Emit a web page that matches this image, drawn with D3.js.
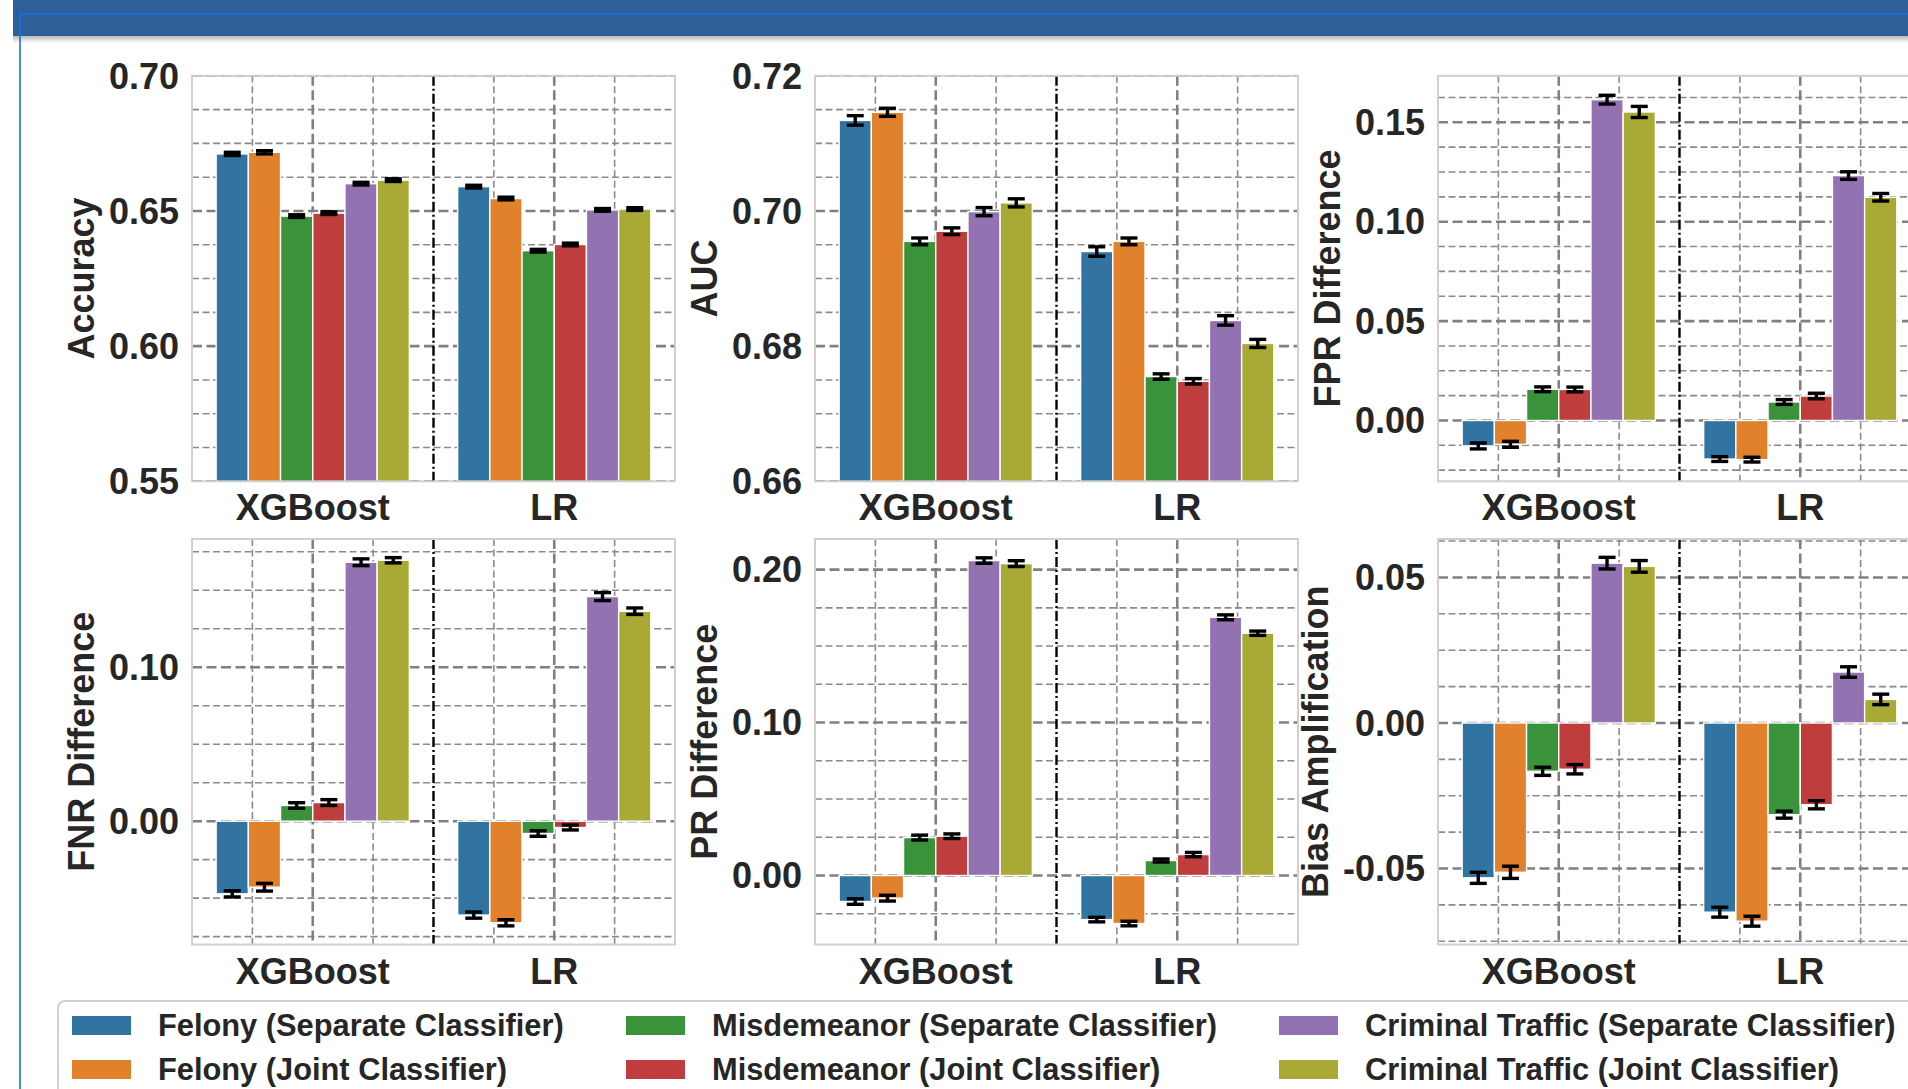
<!DOCTYPE html>
<html>
<head>
<meta charset="utf-8">
<script src="https://cdn.jsdelivr.net/npm/d3@7"></script>
<style>
  html, body { margin: 0; padding: 0; background: #fff; overflow: hidden; }
  svg { display: block; font-family: "Liberation Sans", Arial, sans-serif; font-weight: bold; }
</style>
</head>
<body>
<div id="chart"></div>
<script>
const models = ["XGBoost", "LR"];
const seriesNames = [
  "Felony (Separate Classifier)", "Felony (Joint Classifier)",
  "Misdemeanor (Separate Classifier)", "Misdemeanor (Joint Classifier)",
  "Criminal Traffic (Separate Classifier)", "Criminal Traffic (Joint Classifier)"
];
const colors = ["#3274a1", "#e1812c", "#3a923a", "#c03d3e", "#9372b2", "#a9aa35"];

// [XGBoost values, LR values], each in series order
const accuracy = [[0.6711, 0.6717, 0.6481, 0.6492, 0.6601, 0.6614], [0.6590, 0.6546, 0.6353, 0.6376, 0.6504, 0.6507]];
const accuracyErr = [[0.0006, 0.0006, 0.0005, 0.0005, 0.0005, 0.0005], [0.0005, 0.0005, 0.0005, 0.0005, 0.0005, 0.0005]];
const auc = [[0.7134, 0.7146, 0.6955, 0.6970, 0.6999, 0.7012], [0.6940, 0.6955, 0.6755, 0.6748, 0.6838, 0.6804]];
const aucErr = [[0.0007, 0.0006, 0.0005, 0.0005, 0.0006, 0.0006], [0.0007, 0.0005, 0.0004, 0.0004, 0.0007, 0.0006]];
const fprDiff = [[-0.0128, -0.0120, 0.0157, 0.0156, 0.1614, 0.1552], [-0.0194, -0.0197, 0.0093, 0.0123, 0.1232, 0.1123]];
const fprErr = [[0.0015, 0.0015, 0.0012, 0.0012, 0.0022, 0.0028], [0.0012, 0.0012, 0.0012, 0.0014, 0.0019, 0.0019]];
const fnrDiff = [[-0.0472, -0.0429, 0.0102, 0.0121, 0.1682, 0.1695], [-0.0610, -0.0660, -0.0080, -0.0041, 0.1459, 0.1364]];
const fnrErr = [[0.0020, 0.0025, 0.0018, 0.0019, 0.0022, 0.0017], [0.0020, 0.0020, 0.0018, 0.0016, 0.0026, 0.0021]];
const prDiff = [[-0.0170, -0.0148, 0.0248, 0.0257, 0.2059, 0.2039], [-0.0288, -0.0314, 0.0098, 0.0137, 0.1688, 0.1584]];
const prErr = [[0.0018, 0.0019, 0.0016, 0.0015, 0.0018, 0.0019], [0.0015, 0.0015, 0.0010, 0.0014, 0.0016, 0.0014]];
const biasAmp = [[-0.0532, -0.0513, -0.0166, -0.0159, 0.0549, 0.0538], [-0.0650, -0.0681, -0.0315, -0.0281, 0.0175, 0.0081]];
const biasErr = [[0.0019, 0.0021, 0.0014, 0.0016, 0.0020, 0.0020], [0.0017, 0.0017, 0.0012, 0.0014, 0.0018, 0.0018]];

const accuracyTicks = [0.55, 0.60, 0.65, 0.70];
const aucTicks = [0.66, 0.68, 0.70, 0.72];
const fprTicks = [0.00, 0.05, 0.10, 0.15];
const fnrTicks = [0.00, 0.10];
const prTicks = [0.00, 0.10, 0.20];
const biasTicks = [-0.05, 0.00, 0.05];

const panels = [
  { label: "Accuracy", values: accuracy, errors: accuracyErr, domain: [0.55, 0.70], ticks: accuracyTicks, minor: 0.0125 },
  { label: "AUC", values: auc, errors: aucErr, domain: [0.66, 0.72], ticks: aucTicks, minor: 0.005 },
  { label: "FPR Difference", values: fprDiff, errors: fprErr, domain: [-0.0306, 0.1734], ticks: fprTicks, minor: 0.0125 },
  { label: "FNR Difference", values: fnrDiff, errors: fnrErr, domain: [-0.0801, 0.1833], ticks: fnrTicks, minor: 0.025 },
  { label: "PR Difference", values: prDiff, errors: prErr, domain: [-0.0451, 0.2200], ticks: prTicks, minor: 0.025 },
  { label: "Bias Amplification", values: biasAmp, errors: biasErr, domain: [-0.0761, 0.0632], ticks: biasTicks, minor: 0.0125 }
];

const width = 1908, height = 1089;
const colX = [192, 815, 1438], rowY = [75.8, 539];
const pw = 483, ph = 405.5;
const textColor = "#262626";

let svg = d3.select("#chart")
  .append("svg")
  .attr("width", width)
  .attr("height", height)
  .attr("viewBox", [0, 0, width, height]);

// window chrome at the top of the screenshot
let defs = svg.append("defs");
let grad = defs.append("linearGradient").attr("id", "shadow").attr("x1", 0).attr("y1", 0).attr("x2", 0).attr("y2", 1);
grad.append("stop").attr("offset", 0).attr("stop-color", "#000").attr("stop-opacity", 0.28);
grad.append("stop").attr("offset", 1).attr("stop-color", "#000").attr("stop-opacity", 0);

svg.append("rect").attr("x", 13).attr("y", 0).attr("width", width).attr("height", 36).attr("fill", "#2e5f98");
svg.append("rect").attr("x", 13).attr("y", 36).attr("width", width).attr("height", 7).attr("fill", "url(#shadow)");
svg.append("path")
  .attr("d", `M20,${height} V14 H${width}`)
  .attr("fill", "none")
  .attr("stroke", "#1c6fe6")
  .attr("stroke-width", 1.6);

function drawPanel(p, i, x0, y0) {
  let g = svg.append("g");

  let x = d3.scaleLinear()
    .domain([-0.5, 1.5])
    .range([x0, x0 + pw]);

  let y = d3.scaleLinear()
    .domain(p.domain)
    .range([y0 + ph, y0]);

  const bw = 0.8 / seriesNames.length;

  defs.append("clipPath")
    .attr("id", "clip" + i)
    .append("rect")
    .attr("x", x0).attr("y", y0)
    .attr("width", pw).attr("height", ph);

  let plot = g.append("g").attr("clip-path", `url(#clip${i})`);

  // grid: minor then major
  let minorY = d3.range(Math.ceil(p.domain[0] / p.minor - 1e-6) * p.minor, p.domain[1] + 1e-9, p.minor)
    .filter(v => !p.ticks.some(t => Math.abs(t - v) < 1e-6));

  plot.selectAll(".hminor")
    .data(minorY)
    .join("line")
    .attr("x1", x0).attr("x2", x0 + pw)
    .attr("y1", d => y(d)).attr("y2", d => y(d))
    .attr("stroke", "#8a8a8a")
    .attr("stroke-width", 1.6)
    .attr("stroke-dasharray", "7,3.5");

  plot.selectAll(".vminor")
    .data([-0.25, 0.25, 0.75, 1.25])
    .join("line")
    .attr("x1", d => x(d)).attr("x2", d => x(d))
    .attr("y1", y0).attr("y2", y0 + ph)
    .attr("stroke", "#8a8a8a")
    .attr("stroke-width", 1.6)
    .attr("stroke-dasharray", "7,3.5");

  plot.selectAll(".hmajor")
    .data(p.ticks)
    .join("line")
    .attr("x1", x0).attr("x2", x0 + pw)
    .attr("y1", d => y(d)).attr("y2", d => y(d))
    .attr("stroke", "#808080")
    .attr("stroke-width", 2.6)
    .attr("stroke-dasharray", "10,4.5");

  plot.selectAll(".vmajor")
    .data([0, 1])
    .join("line")
    .attr("x1", d => x(d)).attr("x2", d => x(d))
    .attr("y1", y0).attr("y2", y0 + ph)
    .attr("stroke", "#808080")
    .attr("stroke-width", 2.6)
    .attr("stroke-dasharray", "10,4.5");

  // bars, from zero and clipped to the axes
  let rows = [];
  p.values.forEach((vals, m) => {
    vals.forEach((v, s) => rows.push({ m: m, s: s, v: v, e: p.errors[m][s] }));
  });

  plot.selectAll(".bar")
    .data(rows)
    .join("rect")
    .attr("x", d => x(d.m + (d.s - 3) * bw))
    .attr("width", x(bw) - x(0))
    .attr("y", d => y(Math.max(d.v, 0)))
    .attr("height", d => Math.abs(y(d.v) - y(0)))
    .attr("fill", d => colors[d.s])
    .attr("stroke", "#fff")
    .attr("stroke-width", 1.4);

  // error bars
  let err = g.selectAll(".err")
    .data(rows)
    .join("g")
    .attr("stroke", "#000")
    .attr("stroke-width", 3.4);

  const cx = d => x(d.m + (d.s - 2.5) * bw);
  err.append("line")
    .attr("x1", cx).attr("x2", cx)
    .attr("y1", d => y(d.v - d.e)).attr("y2", d => y(d.v + d.e));
  err.append("line")
    .attr("x1", d => cx(d) - 8.5).attr("x2", d => cx(d) + 8.5)
    .attr("y1", d => y(d.v - d.e)).attr("y2", d => y(d.v - d.e));
  err.append("line")
    .attr("x1", d => cx(d) - 8.5).attr("x2", d => cx(d) + 8.5)
    .attr("y1", d => y(d.v + d.e)).attr("y2", d => y(d.v + d.e));

  // separator between the two models
  g.append("line")
    .attr("x1", x(0.5)).attr("x2", x(0.5))
    .attr("y1", y0).attr("y2", y0 + ph)
    .attr("stroke", "#000")
    .attr("stroke-width", 2.4)
    .attr("stroke-dasharray", "10,3,2,3");

  g.append("rect")
    .attr("x", x0).attr("y", y0)
    .attr("width", pw).attr("height", ph)
    .attr("fill", "none")
    .attr("stroke", "#d0d0d0")
    .attr("stroke-width", 2);

  // tick labels
  g.selectAll(".ytick")
    .data(p.ticks)
    .join("text")
    .attr("x", x0 - 13)
    .attr("y", d => y(d))
    .attr("dy", "0.355em")
    .attr("text-anchor", "end")
    .attr("font-size", 36)
    .attr("fill", textColor)
    .text(d => d.toFixed(2));

  g.selectAll(".xtick")
    .data(models)
    .join("text")
    .attr("x", (d, j) => x(j))
    .attr("y", y0 + ph + 39)
    .attr("text-anchor", "middle")
    .attr("font-size", 36)
    .attr("fill", textColor)
    .text(d => d);

  const off = p.ticks.some(t => t < 0) ? 110 : 98;
  g.append("text")
    .attr("transform", `translate(${x0 - off},${y0 + ph / 2}) rotate(-90)`)
    .attr("text-anchor", "middle")
    .attr("font-size", 36)
    .attr("fill", textColor)
    .text(p.label);
}

panels.forEach((p, i) => drawPanel(p, i, colX[i % 3], rowY[Math.floor(i / 3)]));

// legend
let legend = svg.append("g");
legend.append("rect")
  .attr("x", 58).attr("y", 1001)
  .attr("width", 1900).attr("height", 200)
  .attr("rx", 7)
  .attr("fill", "#fff")
  .attr("stroke", "#d0d0d0")
  .attr("stroke-width", 2);

const legendX = [72, 626, 1279], legendY = [1016, 1060];
let item = legend.selectAll(".item")
  .data(seriesNames)
  .join("g")
  .attr("transform", (d, i) => `translate(${legendX[Math.floor(i / 2)]},${legendY[i % 2]})`);

item.append("rect")
  .attr("width", 59).attr("height", 19)
  .attr("fill", (d, i) => colors[i]);

item.append("text")
  .attr("x", 86)
  .attr("y", 20)
  .attr("font-size", 30.8)
  .attr("fill", textColor)
  .text(d => d);
</script>
</body>
</html>
